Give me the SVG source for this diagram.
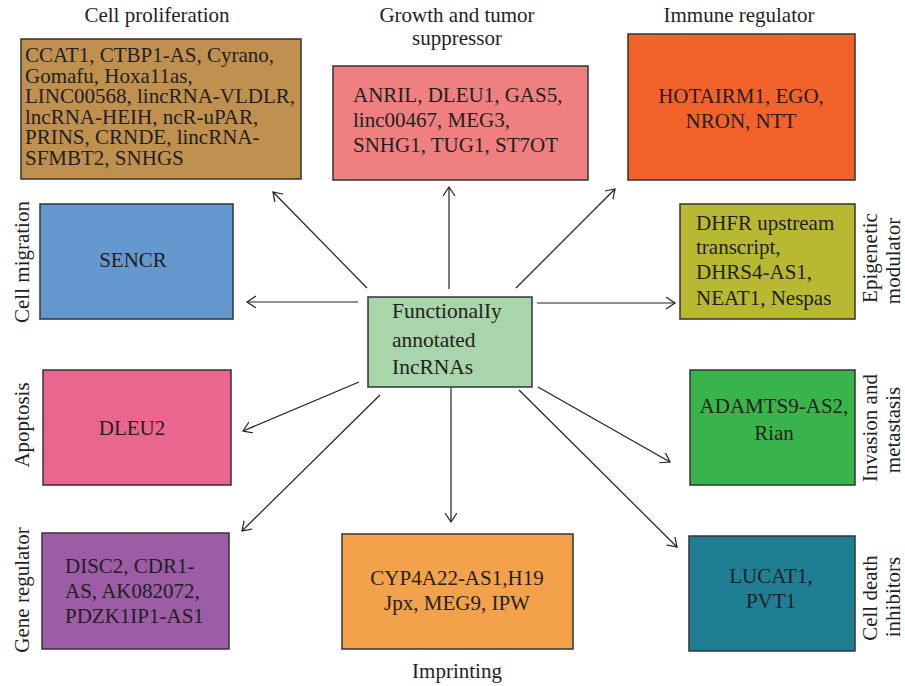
<svg xmlns="http://www.w3.org/2000/svg" width="905" height="686" viewBox="0 0 905 686">
<defs>
<style>
.box{stroke:#333333;stroke-width:1.5}
text{font-family:"Liberation Serif","Times New Roman",serif;font-size:21px;fill:#231F20}
.c{text-anchor:middle}
.big{font-size:21.5px}
.conn line{stroke:#231F20;stroke-width:1.2;marker-end:url(#ah)}
</style>
<marker id="ah" markerUnits="userSpaceOnUse" markerWidth="14" markerHeight="14" refX="9" refY="6" orient="auto">
<path d="M0,0 L9,6 L0,12" fill="none" stroke="#231F20" stroke-width="1.2"/>
</marker>
</defs>
<rect width="905" height="686" fill="#ffffff"/>
<g class="conn" id="connectors">
<line x1="367" y1="288" x2="273" y2="192"/>
<line x1="449" y1="289" x2="449" y2="187"/>
<line x1="516" y1="288" x2="615" y2="189"/>
<line x1="358" y1="302" x2="247" y2="302"/>
<line x1="537" y1="303" x2="675" y2="303"/>
<line x1="359" y1="382" x2="243" y2="431"/>
<line x1="380" y1="395" x2="242" y2="531"/>
<line x1="451" y1="388" x2="451" y2="522"/>
<line x1="538" y1="387" x2="670" y2="462"/>
<line x1="519" y1="390" x2="677" y2="547"/>
</g>
<g id="center">
<rect class="box" x="368" y="297" width="164" height="90" fill="#A8D5AA"/>
<text class="big" x="392" y="318">FunctionalIy</text>
<text class="big" x="392" y="347">annotated</text>
<text class="big" x="392" y="374">IncRNAs</text>
</g>
<g id="cell-proliferation">
<text class="c" x="157" y="22">Cell proliferation</text>
<rect class="box" x="21" y="39" width="280" height="140" fill="#C0904F"/>
<text x="25" y="62">CCAT1, CTBP1-AS, Cyrano,</text>
<text x="25" y="82.6">Gomafu, Hoxa11as,</text>
<text x="25" y="103.2">LINC00568, lincRNA-VLDLR,</text>
<text x="25" y="123.8">lncRNA-HEIH, ncR-uPAR,</text>
<text x="25" y="144.4">PRINS, CRNDE, lincRNA-</text>
<text x="25" y="165">SFMBT2, SNHGS</text>
</g>
<g id="growth">
<text class="c" x="457" y="22">Growth and tumor</text>
<text class="c" x="457" y="45">suppressor</text>
<rect class="box" x="333" y="66" width="255" height="114" fill="#F08080"/>
<text x="353" y="102">ANRIL, DLEU1, GAS5,</text>
<text x="353" y="127">linc00467, MEG3,</text>
<text x="353" y="152">SNHG1, TUG1, ST7OT</text>
</g>
<g id="immune">
<text class="c" x="739" y="22">Immune regulator</text>
<rect class="box" x="628" y="34" width="227" height="146" fill="#F2632B"/>
<text class="c" x="741" y="103">HOTAIRM1, EGO,</text>
<text class="c" x="741" y="128">NRON, NTT</text>
</g>
<g id="migration">
<text class="c" transform="translate(29,262) rotate(-90)">Cell migration</text>
<rect class="box" x="40" y="204" width="193" height="115" fill="#6598CF"/>
<text class="c" x="133" y="267">SENCR</text>
</g>
<g id="epigenetic">
<rect class="box" x="680" y="204" width="175" height="115" fill="#B9B832"/>
<text x="696" y="230">DHFR upstream</text>
<text x="696" y="254">transcript,</text>
<text x="696" y="279">DHRS4-AS1,</text>
<text x="696" y="305">NEAT1, Nespas</text>
<text class="c" transform="translate(877,258) rotate(-90)">Epigenetic</text>
<text class="c" transform="translate(900,261) rotate(-90)">modulator</text>
</g>
<g id="apoptosis">
<text class="c" transform="translate(29,425) rotate(-90)">Apoptosis</text>
<rect class="box" x="43" y="370" width="188" height="115" fill="#EB668E"/>
<text class="c" x="132" y="435">DLEU2</text>
</g>
<g id="invasion">
<rect class="box" x="690" y="370" width="165" height="115" fill="#38B44A"/>
<text class="c" x="774" y="413">ADAMTS9-AS2,</text>
<text class="c" x="774" y="440">Rian</text>
<text class="c" transform="translate(877,428) rotate(-90)">Invasion and</text>
<text class="c" transform="translate(900,430) rotate(-90)">metastasis</text>
</g>
<g id="gene-regulator">
<text class="c" transform="translate(29,590) rotate(-90)">Gene regulator</text>
<rect class="box" x="42" y="533" width="187" height="116" fill="#9C5CA6"/>
<text x="65" y="573">DISC2, CDR1-</text>
<text x="65" y="598">AS, AK082072,</text>
<text x="65" y="623">PDZK1IP1-AS1</text>
</g>
<g id="imprinting">
<rect class="box" x="342" y="534" width="231" height="115" fill="#F4A14C"/>
<text class="c" x="457" y="585">CYP4A22-AS1,H19</text>
<text class="c" x="457" y="610">Jpx, MEG9, IPW</text>
<text class="c" x="457" y="678">Imprinting</text>
</g>
<g id="cell-death">
<rect class="box" x="689" y="536" width="166" height="115" fill="#1F7D94"/>
<text class="c" x="771" y="583">LUCAT1,</text>
<text class="c" x="771" y="608">PVT1</text>
<text class="c" transform="translate(877,598) rotate(-90)">Cell death</text>
<text class="c" transform="translate(900,597) rotate(-90)">inhibitors</text>
</g>
</svg>
